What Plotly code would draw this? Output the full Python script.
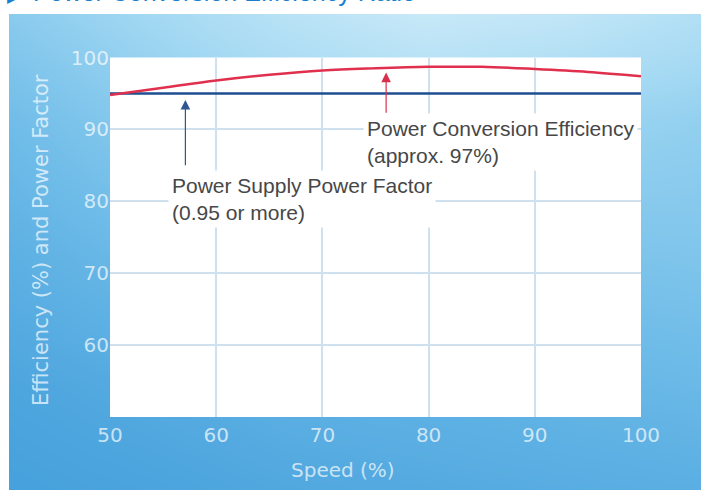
import plotly.graph_objects as go

# ---- data ----
speed = [50, 55, 60, 65, 70, 75, 80, 85, 90, 95, 100]
efficiency = [94.8, 95.8, 96.8, 97.6, 98.2, 98.5, 98.7, 98.7, 98.4, 98.0, 97.4]
pf_speed = [50, 100]
power_factor = [95, 95]
x_ticks = [50, 60, 70, 80, 90, 100]
y_ticks = [60, 70, 80, 90, 100]

# background shading (0 = light, 1 = dark blue)
bg_x = [0, 0.2, 0.4, 0.6, 0.8, 1.0]
bg_y = [1.0, 0.78, 0.5, 0.22, 0.0]
bg_z = [
    [0.55, 0.42, 0.28, 0.18, 0.22, 0.32],
    [0.68, 0.55, 0.45, 0.40, 0.45, 0.50],
    [0.80, 0.70, 0.62, 0.60, 0.62, 0.60],
    [0.90, 0.85, 0.80, 0.78, 0.75, 0.72],
    [0.95, 0.92, 0.88, 0.86, 0.84, 0.82],
]

W, H = 701, 490
fig = go.Figure()

fig.add_trace(go.Heatmap(
    x=bg_x, y=bg_y, z=bg_z, zsmooth="best", showscale=False, hoverinfo="skip",
    zmin=0, zmax=1,
    colorscale=[[0, "#e2f4fb"], [0.4, "#a6daf3"], [0.7, "#6dbbe8"], [1, "#3e9bd9"]],
    xaxis="x", yaxis="y",
))

fig.add_trace(go.Scatter(
    x=pf_speed, y=power_factor, mode="lines",
    line=dict(color="#1d4e8f", width=2.5), xaxis="x2", yaxis="y2",
    showlegend=False, hoverinfo="skip",
))
fig.add_trace(go.Scatter(
    x=speed, y=efficiency, mode="lines", line_shape="spline",
    line=dict(color="#e0304e", width=2.5), xaxis="x2", yaxis="y2",
    showlegend=False, hoverinfo="skip",
))

tick_font = dict(family="DejaVu Sans", size=20, color="rgba(255,255,255,0.7)")
grid = "#cfe0ee"

fig.update_layout(
    width=W, height=H,
    margin=dict(l=0, r=0, t=0, b=0, pad=0, autoexpand=False),
    paper_bgcolor="white", plot_bgcolor="white", showlegend=False,
    xaxis=dict(domain=[9 / W, 1], range=[0, 1], visible=False, fixedrange=True),
    yaxis=dict(domain=[0, (H - 14) / H], range=[0, 1], visible=False, fixedrange=True),
    xaxis2=dict(domain=[110 / W, 641 / W], range=[50, 100], anchor="y2",
                tickvals=x_ticks, showgrid=True, gridcolor=grid, gridwidth=1.5,
                zeroline=False, showline=False, ticks="", tickfont=tick_font,
                ticklabelstandoff=4),
    yaxis2=dict(domain=[73 / H, 432.5 / H], range=[50, 100], anchor="x2",
                tickvals=y_ticks, showgrid=True, gridcolor=grid, gridwidth=1.5,
                zeroline=False, showline=False, ticks="", tickfont=tick_font),
)

ann_font = dict(family="Liberation Sans", size=21, color="#474747")
fig.add_annotation(
    x=55.45, y=80.3, xref="x2", yref="y2", xanchor="left", yanchor="middle",
    align="left", showarrow=False, bgcolor="white", borderpad=3,
    text="Power Supply Power Factor<br>(0.95 or more)", font=ann_font,
)
fig.add_annotation(
    x=73.8, y=88.3, xref="x2", yref="y2", xanchor="left", yanchor="middle",
    align="left", showarrow=False, bgcolor="white", borderpad=3,
    text="Power Conversion Efficiency<br>(approx. 97%)", font=ann_font,
)
# arrows
fig.add_annotation(
    x=57.1, y=94.1, ax=57.1, ay=84.8, xref="x2", yref="y2", axref="x2", ayref="y2",
    text="", showarrow=True, arrowhead=2, arrowsize=1.6, arrowwidth=1.2,
    arrowcolor="#2f5690",
)
fig.add_annotation(
    x=76.0, y=97.9, ax=76.0, ay=92.1, xref="x2", yref="y2", axref="x2", ayref="y2",
    text="", showarrow=True, arrowhead=2, arrowsize=1.6, arrowwidth=1.2,
    arrowcolor="#d8304c",
)

# axis titles
title_font = dict(family="DejaVu Sans", size=20, color="rgba(255,255,255,0.7)")
fig.add_annotation(x=343 / W, y=(H - 470) / H, xref="paper", yref="paper",
                   text="Speed (%)", showarrow=False, font=title_font,
                   xanchor="center", yanchor="middle")
fig.add_annotation(x=41 / W, y=(H - 240) / H, xref="paper", yref="paper",
                   text="Efficiency (%) and Power Factor", showarrow=False,
                   font=dict(title_font, size=21), textangle=-90,
                   xanchor="center", yanchor="middle")

# page heading, cut off at the top edge as in the source picture
fig.add_annotation(x=5 / W, y=(H - 8) / H, xref="paper", yref="paper",
                   text="▶ Power Conversion Efficiency Ratio", showarrow=False,
                   font=dict(family="Liberation Sans", size=25, color="#1b7fd1"),
                   xanchor="left", yanchor="bottom")

fig.write_html(
    "out.html",
    config={"displayModeBar": False},
    post_script="document.body.style.margin='0';document.body.style.overflow='hidden';",
)
